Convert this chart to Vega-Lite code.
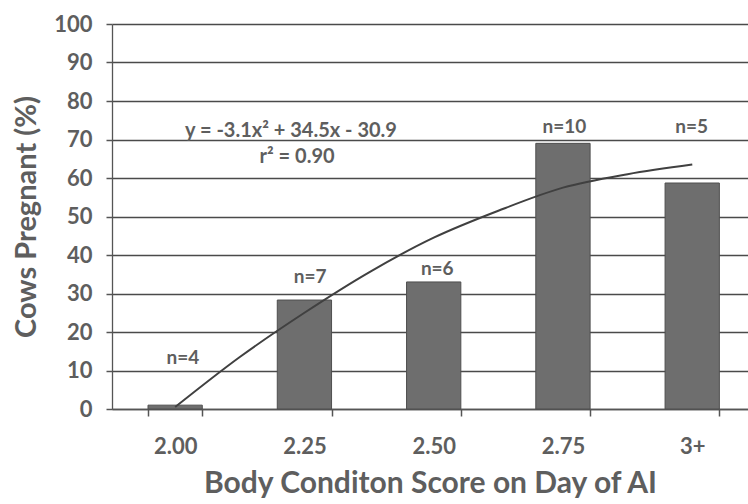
{
  "$schema": "https://vega.github.io/schema/vega-lite/v6.json",
  "width": 636,
  "height": 385,
  "autosize": {"type": "none"},
  "padding": {"left": 112, "top": 24, "right": 0, "bottom": 95},
  "background": "white",
  "config": {
    "font": "Lato",
    "view": {"stroke": null},
    "axis": {
      "labelFont": "Lato",
      "titleFont": "Lato",
      "labelFontWeight": "bold",
      "titleFontWeight": "bold",
      "labelColor": "#5e5e5e",
      "titleColor": "#5e5e5e",
      "domainColor": "#555555",
      "tickColor": "#555555",
      "domainWidth": 1.3,
      "tickWidth": 1.5,
      "labelOverlap": false
    }
  },
  "datasets": {
    "bars": [
      {"score": "2.00", "pregnant": 1, "n": "n=4", "label_y": 13.2},
      {"score": "2.25", "pregnant": 28.3, "n": "n=7", "label_y": 34.3},
      {"score": "2.50", "pregnant": 33, "n": "n=6", "label_y": 36.4},
      {"score": "2.75", "pregnant": 69, "n": "n=10", "label_y": 73.2},
      {"score": "3+", "pregnant": 58.7, "n": "n=5", "label_y": 73.2}
    ],
    "curve": [
      {"i": 1, "fit": 0.5},
      {"i": 1.5, "fit": 13.5},
      {"i": 2, "fit": 25},
      {"i": 2.5, "fit": 35.5},
      {"i": 3, "fit": 44.5},
      {"i": 3.5, "fit": 51.5},
      {"i": 4, "fit": 57.5},
      {"i": 4.5, "fit": 61},
      {"i": 5, "fit": 63.5}
    ],
    "notes": [
      {"i": 1.896, "v": 72.2, "text": "y = -3.1x² + 34.5x - 30.9"},
      {"i": 1.943, "v": 65.5, "text": "r² = 0.90"}
    ]
  },
  "layer": [
    {
      "data": {"name": "bars"},
      "mark": {"type": "bar", "fill": "#6e6e6e", "stroke": "#4f4f4f", "strokeWidth": 1},
      "encoding": {
        "x": {
          "field": "score", "type": "nominal", "sort": null,
          "scale": {"paddingInner": 0.58, "paddingOuter": 0.25, "align": 0.557},
          "axis": {
            "title": "Body Conditon Score on Day of AI",
            "titleFontSize": 30,
            "titlePadding": 11,
            "labelFontSize": 22,
            "labelPadding": 20,
            "labelAngle": 0,
            "tickBand": "extent",
            "tickSize": 7,
            "grid": false
          }
        },
        "y": {
          "field": "pregnant", "type": "quantitative",
          "scale": {"domain": [0, 100], "nice": false},
          "axis": {
            "title": "Cows Pregnant (%)",
            "titleFontSize": 29,
            "titlePadding": 12,
            "labelFontSize": 22,
            "labelPadding": 14,
            "tickSize": 6,
            "values": [0, 10, 20, 30, 40, 50, 60, 70, 80, 90, 100],
            "grid": true,
            "gridColor": "#4a4a4a",
            "gridWidth": 1.3
          }
        }
      }
    },
    {
      "data": {"name": "bars"},
      "mark": {"type": "text", "font": "Lato", "fontWeight": "bold", "fontSize": 19, "color": "#5e5e5e", "baseline": "middle"},
      "encoding": {
        "x": {
          "field": "score", "type": "nominal", "sort": null,
          "scale": {"paddingInner": 0.58, "paddingOuter": 0.25, "align": 0.557},
          "axis": null
        },
        "y": {
          "field": "label_y", "type": "quantitative",
          "scale": {"domain": [0, 100], "nice": false},
          "axis": {
            "title": "Cows Pregnant (%)",
            "titleFontSize": 29,
            "titlePadding": 12,
            "labelFontSize": 22,
            "labelPadding": 14,
            "tickSize": 6,
            "values": [0, 10, 20, 30, 40, 50, 60, 70, 80, 90, 100],
            "grid": true,
            "gridColor": "#4a4a4a",
            "gridWidth": 1.3
          }
        },
        "text": {"field": "n"}
      }
    },
    {
      "data": {"name": "curve"},
      "mark": {"type": "line", "color": "#404040", "strokeWidth": 2, "interpolate": "monotone"},
      "encoding": {
        "x": {"field": "i", "type": "quantitative", "scale": {"domain": [0.5115, 5.431], "nice": false, "zero": false}, "axis": null},
        "y": {
          "field": "fit", "type": "quantitative",
          "scale": {"domain": [0, 100], "nice": false},
          "axis": {
            "title": "Cows Pregnant (%)",
            "titleFontSize": 29,
            "titlePadding": 12,
            "labelFontSize": 22,
            "labelPadding": 14,
            "tickSize": 6,
            "values": [0, 10, 20, 30, 40, 50, 60, 70, 80, 90, 100],
            "grid": true,
            "gridColor": "#4a4a4a",
            "gridWidth": 1.3
          }
        }
      }
    },
    {
      "data": {"name": "notes"},
      "mark": {"type": "text", "font": "Lato", "fontWeight": "bold", "fontSize": 20, "color": "#5e5e5e", "baseline": "middle"},
      "encoding": {
        "x": {"field": "i", "type": "quantitative", "scale": {"domain": [0.5115, 5.431], "nice": false, "zero": false}, "axis": null},
        "y": {
          "field": "v", "type": "quantitative",
          "scale": {"domain": [0, 100], "nice": false},
          "axis": {
            "title": "Cows Pregnant (%)",
            "titleFontSize": 29,
            "titlePadding": 12,
            "labelFontSize": 22,
            "labelPadding": 14,
            "tickSize": 6,
            "values": [0, 10, 20, 30, 40, 50, 60, 70, 80, 90, 100],
            "grid": true,
            "gridColor": "#4a4a4a",
            "gridWidth": 1.3
          }
        },
        "text": {"field": "text"}
      }
    }
  ],
  "resolve": {"scale": {"x": "independent"}}
}
